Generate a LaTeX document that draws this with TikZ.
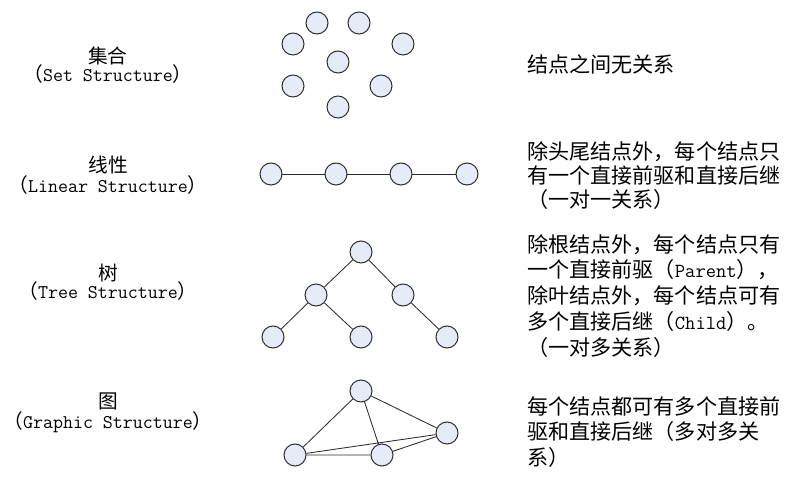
\documentclass[tikz,border=0pt]{standalone}
\usepackage{fontspec}
\newfontfamily\cjk{Noto Sans CJK SC}
\usetikzlibrary{positioning}
\definecolor{nodefill}{HTML}{E6ECF7}
\definecolor{ink}{HTML}{2B2B2B}
\newcommand{\zlp}{{\cjk\fontsize{14}{14}\selectfont （}}
\newcommand{\zrp}{{\cjk\fontsize{14}{14}\selectfont ）}}
\newcommand{\zh}[1]{{\cjk\fontsize{14}{14}\selectfont #1}}
\newcommand{\en}[1]{{\ttfamily\fontsize{14.2}{18.3}\selectfont #1}}

\begin{document}
\begin{tikzpicture}[x=0.025cm,y=-0.025cm,
  v/.style={circle,draw=ink,fill=nodefill,line width=0.7pt,minimum size=5.5mm,inner sep=0pt},
  e/.style={draw=ink,line width=0.6pt},
  lbl/.style={align=center,inner sep=0pt,font=\ttfamily\fontsize{13.8}{15.5}\selectfont},
  desc/.style={anchor=north west,align=left,inner sep=0pt,font=\cjk\fontsize{15}{18.3}\selectfont}]
\useasboundingbox (0,0) rectangle (805,485);

% left labels
\node[lbl] (setlbl) at (108,65) {\zh{集合}\\[-3pt]\zlp Set Structure\zrp};
\node[lbl] (linlbl) at (108,175) {\zh{线性}\\[-1pt]\zlp Linear Structure\zrp};
\node[lbl] (treelbl) at (108,282) {\zh{树}\\[-3pt]\zlp Tree Structure\zrp};
\node[lbl] (grlbl) at (108,413) {\zh{图}\\[-1pt]\zlp Graphic Structure\zrp};

% set
\foreach \p [count=\i] in {(317,23),(359,23),(293,44),(403,44),(338,62),(293,86),(381,86),(338,107)}
  \node[v] (s\i) at \p {};

% linear
\foreach \x [count=\i] in {271,336,401,467}
  \node[v] (l\i) at (\x,174) {};
\draw[e] (l1) -- (l2) -- (l3) -- (l4);

% tree
\node[v] (t1) at (361,252) {};
\node[v] (t2) at (316,295) {};
\node[v] (t3) at (403,295) {};
\node[v] (t4) at (273,337) {};
\node[v] (t5) at (361,337) {};
\node[v] (t6) at (447,337) {};
\draw[e] (t1) -- (t2) (t1) -- (t3) (t2) -- (t4) (t2) -- (t5) (t3) -- (t6);

% graph
\node[v] (g1) at (361,391) {};
\node[v] (g2) at (447,433) {};
\node[v] (g3) at (295,455) {};
\node[v] (g4) at (382,455) {};
\draw[e] (g1) -- (g3) (g1) -- (g4) (g1) -- (g2) (g3) -- (g2) (g3) -- (g4) (g4) -- (g2);

% descriptions
\node[desc] (setd) at (527,54) {结点之间无关系};
\node[desc,font=\cjk\fontsize{15}{17.1}\selectfont] (lind) at (527,141)
  {除头尾结点外，每个结点只\\有一个直接前驱和直接后继\\（一对一关系）};
\node[desc] (treed) at (527,234)
  {除根结点外，每个结点只有\\一个直接前驱（\en{Parent}），\\除叶结点外，每个结点可有\\多个直接后继（\en{Child}）。\\（一对多关系）};
\node[desc] (grd) at (527,396)
  {每个结点都可有多个直接前\\驱和直接后继（多对多关\\系）};
\end{tikzpicture}
\end{document}
